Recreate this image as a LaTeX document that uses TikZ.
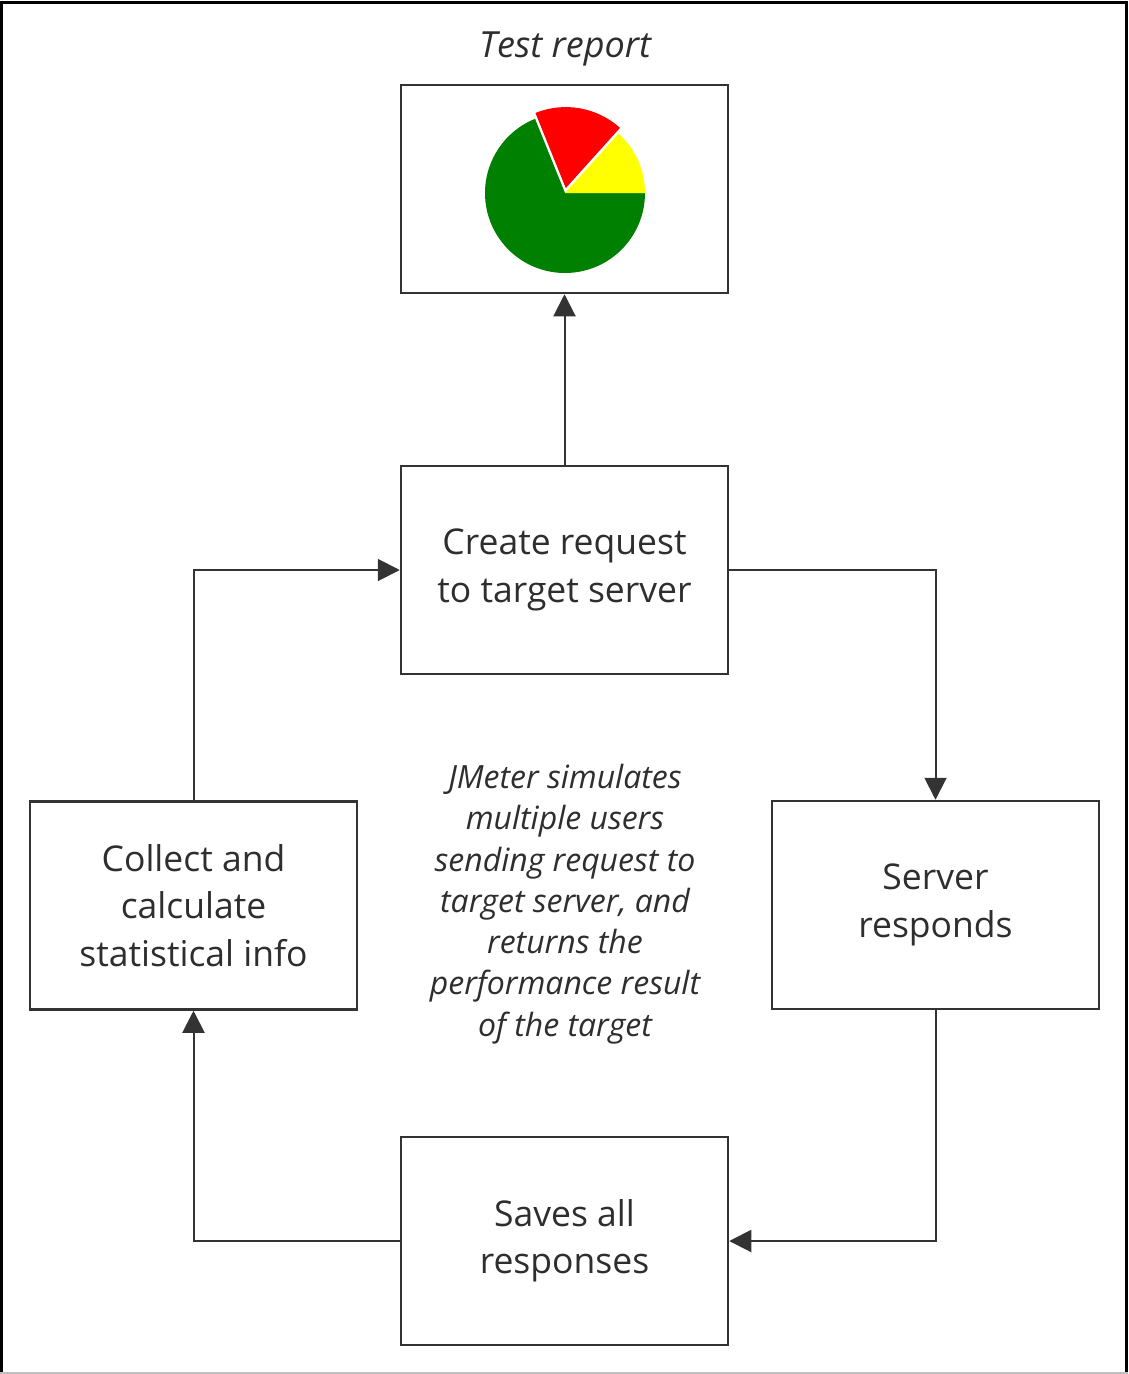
\documentclass[tikz,border=0pt]{standalone}
\usepackage{fontspec}
\setmainfont{Open Sans}
\usetikzlibrary{arrows.meta}
\definecolor{piegreen}{HTML}{008000}
\definecolor{piered}{HTML}{FF0000}
\definecolor{pieyellow}{HTML}{FFFF00}
\definecolor{ink}{HTML}{2E2E2E}
\begin{document}
\begin{tikzpicture}[x=1pt,y=-1pt,
  stepbox/.style={draw=black!80, line width=2.5pt, rectangle, minimum width=327pt, minimum height=208pt, align=center, inner sep=0pt, text=ink, font=\fontsize{35.5}{47.5}\selectfont},
  conn/.style={draw=black!80, line width=2pt, -{Triangle[length=22pt,width=22pt]}},
]
\useasboundingbox (0,0) rectangle (1128,1374);
\fill[white] (0,0) rectangle (1128,1374);
\draw[black, line width=3pt] (1.5,1372) -- (1.5,2) -- (1126.5,2) -- (1126.5,1372);
\draw[black!25, line width=2pt] (0,1373) -- (1128,1373);

\node[text=ink, font=\fontsize{36}{40}\selectfont\itshape] (title) at (565,49) {Test report};
\node[stepbox] (report) at (564.5,189) {};
\node[stepbox] (create) at (564.5,570) {Create request\\to target server};
\node[stepbox] (collect) at (193.5,905.5) {Collect and\\calculate\\statistical info};
\node[stepbox] (server) at (935.5,905) {Server\\responds};
\node[stepbox] (saves) at (564.5,1241) {Saves all\\responses};
\node[align=center, text=ink, font=\fontsize{32}{41.3}\selectfont\itshape] (note) at (565,904) {JMeter simulates\\multiple users\\sending request to\\target server, and\\returns the\\performance result\\of the target};

% pie chart
\begin{scope}[shift={(565,193)}, y=1pt]
  \fill[piegreen] (0,0) -- (0:80pt) arc[start angle=0, end angle=-248, radius=80pt] -- cycle;
  \fill[pieyellow] (0,0) -- (0:80pt) arc[start angle=0, end angle=48, radius=80pt] -- cycle;
  \begin{scope}[shift={(81:5pt)}]
    \fill[piered] (0,0) -- (48:81pt) arc[start angle=48, end angle=112, radius=81pt] -- cycle;
  \end{scope}
\end{scope}

\coordinate (c1) at (create.east -| server.north);
\coordinate (c2) at (server.south |- saves.east);
\coordinate (c3) at (collect.south |- saves.west);
\coordinate (c4) at (collect.north |- create.west);
\draw[conn] (create.north) -- (report.south);
\draw[conn] (create.east) -- (c1) -- (server.north);
\draw[conn] (server.south) -- (c2) -- (saves.east);
\draw[conn] (saves.west) -- (c3) -- (collect.south);
\draw[conn] (collect.north) -- (c4) -- (create.west);
\end{tikzpicture}
\end{document}
